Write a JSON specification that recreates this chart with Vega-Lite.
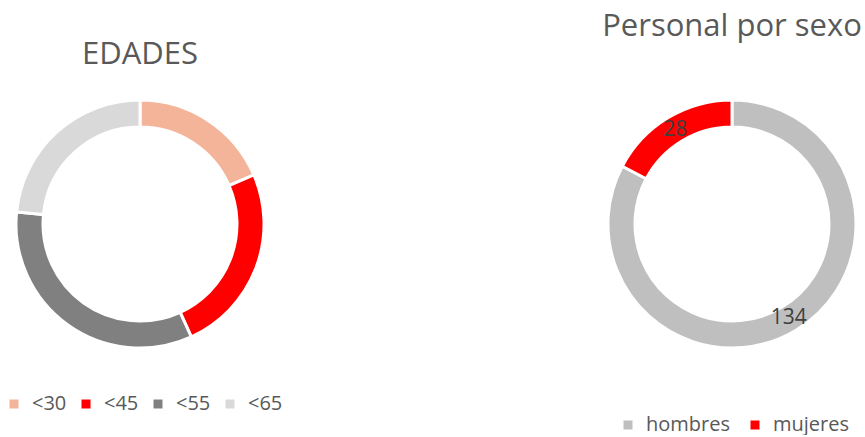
{
  "$schema": "https://vega.github.io/schema/vega-lite/v6.json",
  "padding": {"top": 11, "left": 0, "right": 0, "bottom": 0},
  "background": "white",
  "config": {"view": {"stroke": null}, "font": "Open Sans", "concat": {"spacing": 315}},
  "datasets": {
    "edades": [
      {"grupo": "<30", "valor": 30},
      {"grupo": "<45", "valor": 40},
      {"grupo": "<55", "valor": 54},
      {"grupo": "<65", "valor": 38}
    ],
    "sexo": [
      {"sexo": "hombres", "valor": 134},
      {"sexo": "mujeres", "valor": 28}
    ]
  },
  "hconcat": [
    {
      "width": 280,
      "height": 300,
      "title": {"text": "EDADES", "fontSize": 31, "font": "Open Sans", "fontWeight": "normal", "color": "#595959", "baseline": "alphabetic", "offset": -21, "anchor": "middle"},
      "data": {"name": "edades"},
      "mark": {"type": "arc", "outerRadius": 124, "innerRadius": 97, "stroke": "white", "strokeWidth": 3},
      "encoding": {
        "theta": {"field": "valor", "type": "quantitative", "stack": true},
        "order": {"field": "grupo", "type": "nominal"},
        "color": {
          "field": "grupo",
          "type": "nominal",
          "scale": {"domain": ["<30", "<45", "<55", "<65"], "range": ["#F4B49A", "#FF0000", "#808080", "#D9D9D9"]},
          "legend": {"orient": "none", "legendX": 4, "legendY": 320, "padding": 0, "direction": "horizontal", "title": null, "symbolType": "square", "symbolSize": 81, "symbolStrokeWidth": 0, "labelFontSize": 20, "labelColor": "#595959", "labelFont": "Open Sans", "columnPadding": 9, "labelOffset": 8}
        }
      }
    },
    {
      "width": 268,
      "height": 300,
      "title": {"text": "Personal por sexo", "fontSize": 31, "font": "Open Sans", "fontWeight": "normal", "color": "#595959", "baseline": "alphabetic", "offset": 7, "anchor": "middle"},
      "data": {"name": "sexo"},
      "encoding": {
        "theta": {"field": "valor", "type": "quantitative", "stack": true},
        "order": {"field": "sexo", "type": "nominal"}
      },
      "layer": [
        {
          "mark": {"type": "arc", "outerRadius": 124, "innerRadius": 97, "stroke": "white", "strokeWidth": 3},
          "encoding": {
            "color": {
              "field": "sexo",
              "type": "nominal",
              "scale": {"domain": ["hombres", "mujeres"], "range": ["#BFBFBF", "#FF0000"]},
              "legend": {"orient": "none", "legendX": 20, "legendY": 341, "padding": 0, "direction": "horizontal", "title": null, "symbolType": "square", "symbolSize": 81, "symbolStrokeWidth": 0, "labelFontSize": 20, "labelColor": "#595959", "labelFont": "Open Sans", "columnPadding": 15, "labelOffset": 8}
            }
          }
        },
        {
          "mark": {"type": "text", "radius": 110, "fontSize": 21, "font": "Open Sans", "color": "#404040"},
          "encoding": {
            "detail": {"field": "sexo", "type": "nominal"},
            "text": {"field": "valor", "type": "quantitative"}
          }
        }
      ]
    }
  ],
  "resolve": {"scale": {"color": "independent"}}
}
